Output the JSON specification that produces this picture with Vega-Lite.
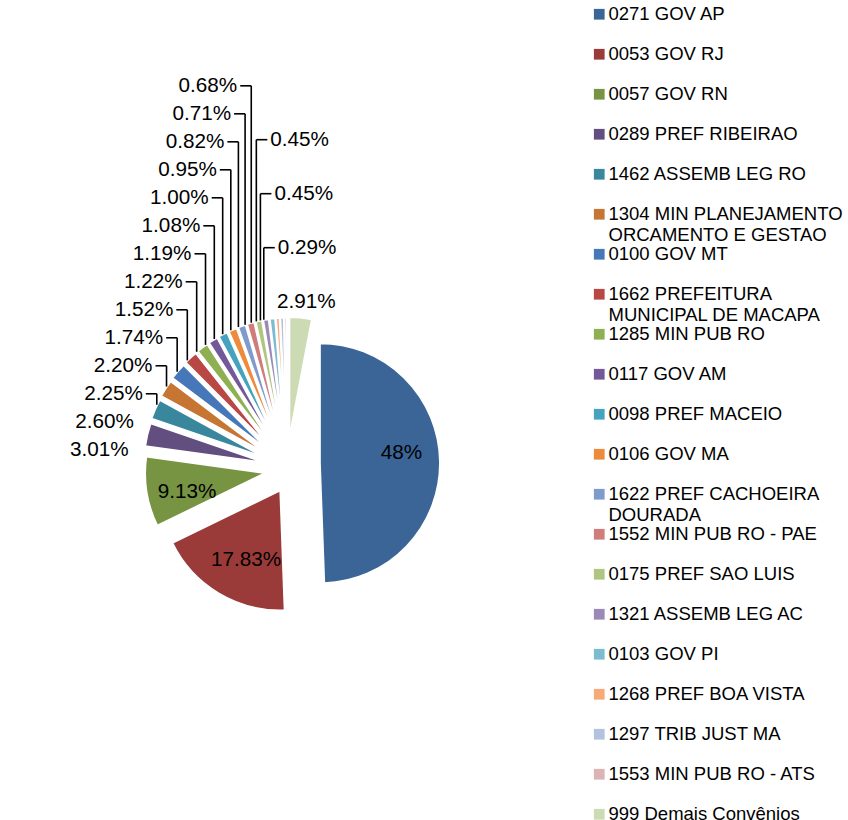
{
  "$schema": "https://vega.github.io/schema/vega-lite/v6.json",
  "width": 574,
  "height": 820,
  "padding": 0,
  "background": "white",
  "config": {"view": {"stroke": null}, "font": "Liberation Sans"},
  "data": {
    "values": [
      {"idx": 0, "name": "0271 GOV AP", "value": 48, "label": "48%"},
      {"idx": 1, "name": "0053 GOV RJ", "value": 17.83, "label": "17.83%"},
      {"idx": 2, "name": "0057 GOV RN", "value": 9.13, "label": "9.13%"},
      {"idx": 3, "name": "0289 PREF RIBEIRAO", "value": 3.01, "label": "3.01%"},
      {"idx": 4, "name": "1462 ASSEMB LEG RO", "value": 2.6, "label": "2.60%"},
      {"idx": 5, "name": "1304 MIN PLANEJAMENTO ORCAMENTO E GESTAO", "value": 2.25, "label": "2.25%"},
      {"idx": 6, "name": "0100 GOV MT", "value": 2.2, "label": "2.20%"},
      {"idx": 7, "name": "1662 PREFEITURA MUNICIPAL DE MACAPA", "value": 1.74, "label": "1.74%"},
      {"idx": 8, "name": "1285 MIN PUB RO", "value": 1.52, "label": "1.52%"},
      {"idx": 9, "name": "0117 GOV AM", "value": 1.22, "label": "1.22%"},
      {"idx": 10, "name": "0098 PREF MACEIO", "value": 1.19, "label": "1.19%"},
      {"idx": 11, "name": "0106 GOV MA", "value": 1.08, "label": "1.08%"},
      {"idx": 12, "name": "1622 PREF CACHOEIRA DOURADA", "value": 1.0, "label": "1.00%"},
      {"idx": 13, "name": "1552 MIN PUB RO - PAE", "value": 0.95, "label": "0.95%"},
      {"idx": 14, "name": "0175 PREF SAO LUIS", "value": 0.82, "label": "0.82%"},
      {"idx": 15, "name": "1321 ASSEMB LEG AC", "value": 0.71, "label": "0.71%"},
      {"idx": 16, "name": "0103 GOV PI", "value": 0.68, "label": "0.68%"},
      {"idx": 17, "name": "1268 PREF BOA VISTA", "value": 0.45, "label": "0.45%"},
      {"idx": 18, "name": "1297 TRIB JUST MA", "value": 0.45, "label": "0.45%"},
      {"idx": 19, "name": "1553 MIN PUB RO - ATS", "value": 0.29, "label": "0.29%"},
      {"idx": 20, "name": "999 Demais Convênios", "value": 2.91, "label": "2.91%"}
    ]
  },
  "transform": [
    {"joinaggregate": [{"op": "sum", "field": "value", "as": "total"}]},
    {"window": [{"op": "sum", "field": "value", "as": "cum"}], "sort": [{"field": "idx", "order": "ascending"}], "frame": [null, 0]},
    {"calculate": "datum.cum - datum.value", "as": "c0"},
    {"calculate": "2*PI*(datum.cum - datum.value/2)/datum.total", "as": "mid"},
    {"calculate": "sin(datum.mid)", "as": "sx"},
    {"calculate": "-cos(datum.mid)", "as": "sy"},
    {"calculate": "0.2333*datum.sx", "as": "ax"},
    {"calculate": "0.2333*datum.sy", "as": "ay"},
    {"calculate": "datum.ax + datum.sx", "as": "px"},
    {"calculate": "datum.ay + datum.sy", "as": "py"},
    {"calculate": "datum.ax + 0.68*datum.sx", "as": "ix"},
    {"calculate": "datum.ay + 0.68*datum.sy - 0.04", "as": "iy"},
    {"calculate": "datum.ax + 1.1333*datum.sx", "as": "nx"},
    {"calculate": "datum.ay + 1.1333*datum.sy", "as": "ny"},
    {"calculate": "datum.value/datum.total > 0.05 ? 'inside' : (datum.mid*180/PI > 345.5 ? 'right' : 'left')", "as": "grp"},
    {"calculate": "datum.ny + 0.2333*datum.idx", "as": "kl"},
    {"calculate": "datum.ny - 0.45*datum.idx", "as": "kr"},
    {"window": [{"op": "min", "field": "kl", "as": "klmin"}], "groupby": ["grp"], "sort": [{"field": "idx", "order": "ascending"}], "frame": [null, 0]},
    {"window": [{"op": "min", "field": "kr", "as": "krmin"}], "groupby": ["grp"], "sort": [{"field": "idx", "order": "descending"}], "frame": [null, 0]},
    {"calculate": "datum.grp == 'right' ? datum.krmin + 0.45*datum.idx : datum.klmin - 0.2333*datum.idx", "as": "ly"},
    {"calculate": "abs(datum.ly - datum.ny) > 0.02", "as": "disp"},
    {"calculate": "datum.grp == 'right' ? 1 : -1", "as": "dir"},
    {"calculate": "datum.px + datum.dir*0.0917", "as": "hx"},
    {"calculate": "datum.disp ? datum.px + datum.dir*0.1167 : datum.nx", "as": "tx"}
  ],
  "layer": [
    {
      "mark": {"type": "arc", "outerRadius": 120, "stroke": "white", "strokeWidth": 1.8},
      "encoding": {
        "theta": {"field": "c0", "type": "quantitative", "scale": {"nice": false, "zero": true}},
        "theta2": {"field": "cum"},
        "x": {"field": "ax", "type": "quantitative", "stack": null, "axis": null, "scale": {"domain": [-2.4333, 2.35], "nice": false, "zero": false}},
        "y": {"field": "ay", "type": "quantitative", "stack": null, "axis": null, "scale": {"domain": [-3.875, 2.9583], "reverse": true, "nice": false, "zero": false}},
        "color": {
          "field": "name",
          "type": "nominal",
          "sort": {"field": "idx", "op": "min"},
          "scale": {"range": ["#3B6597", "#9A3B39", "#779443", "#634E80", "#38879C", "#C67533", "#4677B8", "#B94744", "#8FB052", "#74599A", "#46A3C0", "#EE8A3C", "#7E9BCC", "#CF7C7B", "#AFC680", "#9C89B8", "#7CBCD1", "#F8A978", "#B3C2DE", "#DDB4B4", "#CCDBB3"]},
          "legend": {
            "title": null,
            "orient": "right",
            "offset": 11,
            "padding": 5,
            "symbolType": "square",
            "symbolSize": 115,
            "symbolStrokeWidth": 0,
            "labelFont": "Liberation Sans",
            "labelFontSize": 18.5,
            "labelColor": "black",
            "labelLimit": 300,
            "labelOffset": 0,
            "labelBaseline": "middle",
            "rowPadding": 0,
            "labelExpr": "length(datum.label) > 22 ? [substring(datum.label, 0, lastindexof(substring(datum.label, 0, 23), ' ')), substring(datum.label, lastindexof(substring(datum.label, 0, 23), ' ') + 1)] : [datum.label, '']",
            "encode": {"labels": {"update": {"lineHeight": {"value": 21}}}}
          }
        }
      }
    },
    {
      "transform": [{"filter": "datum.grp == 'inside'"}],
      "mark": {"type": "text", "fontSize": 20.7, "align": "center", "baseline": "middle", "color": "black"},
      "encoding": {
        "x": {"field": "ix", "type": "quantitative", "axis": null},
        "y": {"field": "iy", "type": "quantitative", "axis": null},
        "text": {"field": "label"}
      }
    },
    {
      "transform": [{"filter": "datum.grp != 'inside' && datum.disp"}],
      "mark": {"type": "rule", "color": "black", "strokeWidth": 1.6},
      "encoding": {
        "x": {"field": "px", "type": "quantitative", "axis": null},
        "y": {"field": "py", "type": "quantitative", "axis": null},
        "y2": {"field": "ly"}
      }
    },
    {
      "transform": [{"filter": "datum.grp != 'inside' && datum.disp"}],
      "mark": {"type": "rule", "color": "black", "strokeWidth": 1.6},
      "encoding": {
        "x": {"field": "px", "type": "quantitative", "axis": null},
        "x2": {"field": "hx"},
        "y": {"field": "ly", "type": "quantitative", "axis": null}
      }
    },
    {
      "transform": [{"filter": "datum.grp == 'left'"}],
      "mark": {"type": "text", "fontSize": 20.7, "align": "right", "baseline": "middle", "color": "black"},
      "encoding": {
        "x": {"field": "tx", "type": "quantitative", "axis": null},
        "y": {"field": "ly", "type": "quantitative", "axis": null},
        "text": {"field": "label"}
      }
    },
    {
      "transform": [{"filter": "datum.grp == 'right'"}],
      "mark": {"type": "text", "fontSize": 20.7, "align": "left", "baseline": "middle", "color": "black"},
      "encoding": {
        "x": {"field": "tx", "type": "quantitative", "axis": null},
        "y": {"field": "ly", "type": "quantitative", "axis": null},
        "text": {"field": "label"}
      }
    }
  ]
}
